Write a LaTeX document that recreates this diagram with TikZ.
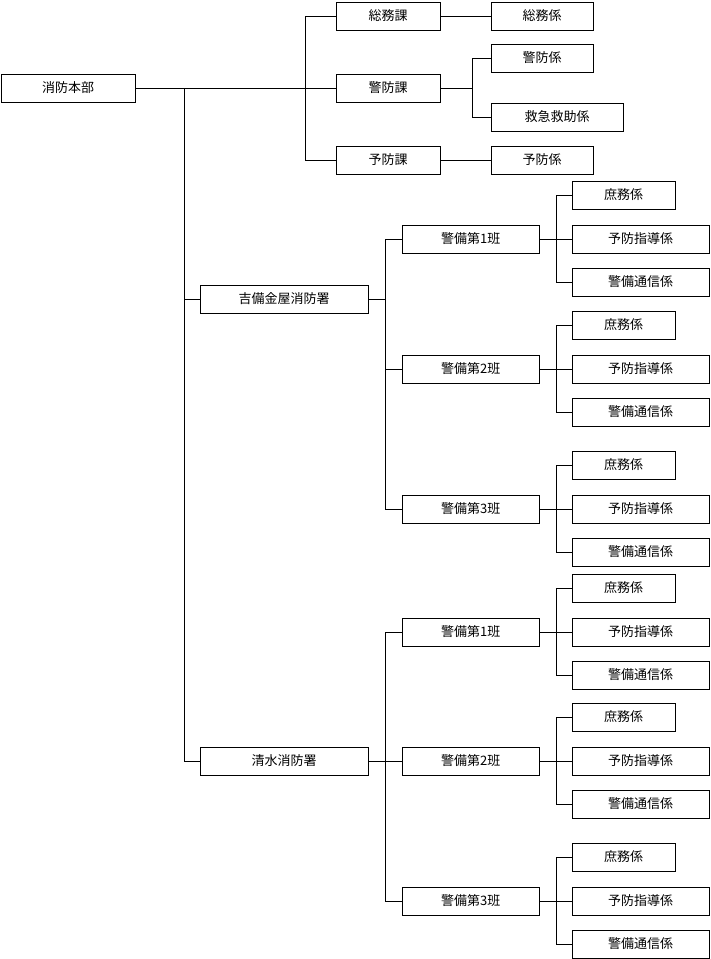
\documentclass[tikz,border=0pt]{standalone}
\usepackage{fontspec}
\setmainfont{Noto Sans CJK JP}
\usetikzlibrary{positioning}

\tikzset{
  box/.style={draw, thin, minimum height=28pt, inner sep=0pt, anchor=west, font=\fontsize{13}{13}\selectfont},
  link/.style={draw, thin}
}
% one watch group with its three sections
\newcommand\hangroup[4]{%
  \node[box, minimum width=137pt] (#1) at (402,#2) {#3};
  \node[box, minimum width=103pt] (#1a) at (572,#2-44) {庶務係};
  \node[box, minimum width=137pt] (#1b) at (572,#2) {予防指導係};
  \node[box, minimum width=137pt] (#1c) at (572,#2+43) {警備通信係};
  \draw[link] (#1.east) -- (#1b.west);
  \draw[link] (#1a.west) -- ++(-16,0) |- (#1c.west);
  \draw[link] (#4) |- (#1.west);
}

\begin{document}
\begin{tikzpicture}[x=1pt,y=-1pt]
        \useasboundingbox (0,0) rectangle (710,959);
        \node[box, minimum width=134pt] (hq) at (1,88) {消防本部};
        \node[box, minimum width=104pt] (soumu) at (336,16) {総務課};
        \node[box, minimum width=104pt] (keibou) at (336,88) {警防課};
        \node[box, minimum width=104pt] (yobou) at (336,160) {予防課};
        \node[box, minimum width=102pt] (soumuk) at (491,16) {総務係};
        \node[box, minimum width=102pt] (keibouk) at (491,58) {警防係};
        \node[box, minimum width=132pt] (kyukyu) at (491,117) {救急救助係};
        \node[box, minimum width=102pt] (yobouk) at (491,160) {予防係};
        \draw[link] (hq.east) -- (keibou.west);
        \draw[link] (soumu.west) -- ++(-31,0) |- (yobou.west);
        \draw[link] (soumu.east) -- (soumuk.west);
        \draw[link] (yobou.east) -- (yobouk.west);
        \draw[link] (keibou.east) -- ++(32,0) coordinate (kj);
        \draw[link] (keibouk.west) -- ++(-19,0) |- (kyukyu.west);
        % stations
        \node[box, minimum width=168pt] (kibi) at (200,299) {吉備金屋消防署};
        \node[box, minimum width=168pt] (shimizu) at (200,761) {清水消防署};
        \coordinate (trunk) at (184,88);
        \draw[link] (trunk) |- (shimizu.west);
        \draw[link] (184,299) -- (kibi.west);
        \draw[link] (kibi.east) -- ++(17,0) coordinate (kj1);
        \draw[link] (shimizu.east) -- ++(17,0) coordinate (sj1);
        \hangroup{ka}{239}{警備第1班}{kj1}
        \hangroup{kb}{369}{警備第2班}{kj1}
        \hangroup{kc}{509}{警備第3班}{kj1}
        \hangroup{sa}{632}{警備第1班}{sj1}
        \hangroup{sb}{761}{警備第2班}{sj1}
        \hangroup{sc}{901}{警備第3班}{sj1}
        \draw[link] (ka.west) -- ++(-17,0) |- (kc.west);
        \draw[link] (sa.west) -- ++(-17,0) |- (sc.west);
    \end{tikzpicture}
\end{document}
